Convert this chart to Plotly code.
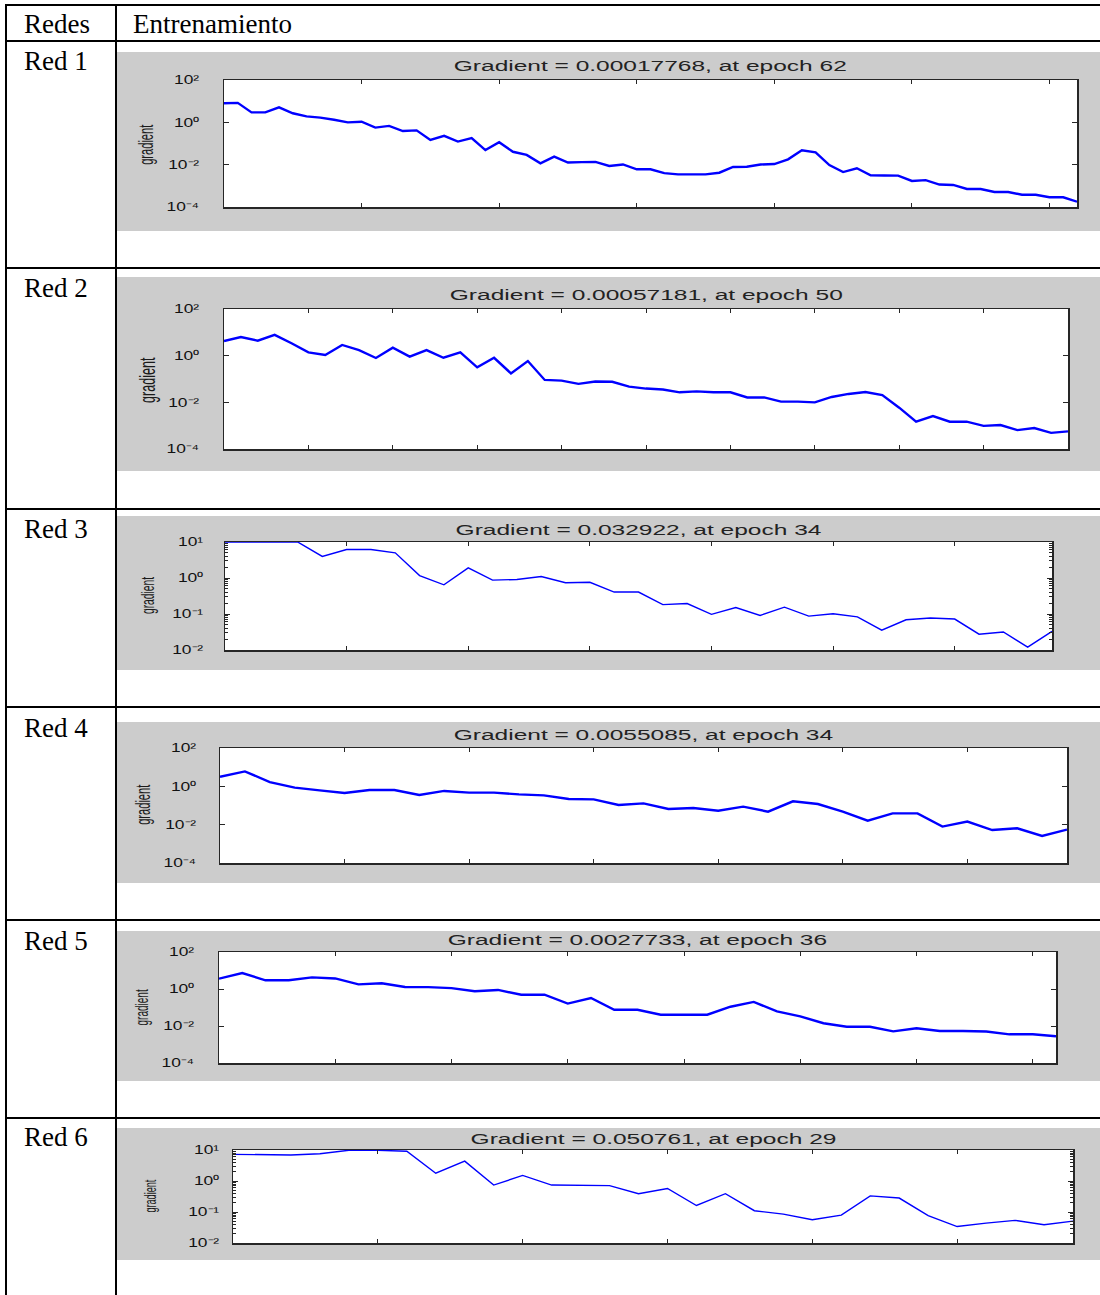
import plotly.graph_objects as go

# ---------------- data ----------------
# gradient magnitude recorded at every training epoch, one list per network
red1_gradient = [7.94, 8.32, 2.95, 2.95, 5.13, 2.69, 1.91, 1.66, 1.32, 1.0,
                 1.07, 0.562, 0.676, 0.389, 0.417, 0.148, 0.229, 0.123, 0.182, 0.049,
                 0.115, 0.0407, 0.0288, 0.0115, 0.024, 0.0126, 0.0132, 0.0135, 0.00871, 0.0102,
                 0.00603, 0.00603, 0.00398, 0.00347, 0.00347, 0.00347, 0.00417, 0.00776, 0.00794, 0.0102,
                 0.0107, 0.0178, 0.0479, 0.038, 0.00955, 0.00447, 0.00676, 0.00316, 0.00309, 0.00302,
                 0.0017, 0.00186, 0.00115, 0.0011, 0.000708, 0.000708, 0.000513, 0.000513, 0.00038, 0.00038,
                 0.000288, 0.000288, 0.00017768]
red2_gradient = [4.27, 6.31, 4.37, 7.76, 3.39, 1.38, 1.07, 2.88, 1.74, 0.794,
                 2.19, 0.912, 1.74, 0.813, 1.38, 0.316, 0.813, 0.174, 0.589, 0.0912,
                 0.0851, 0.0617, 0.0776, 0.0759, 0.0468, 0.0389, 0.0355, 0.0269, 0.0295, 0.0269,
                 0.0269, 0.0162, 0.0162, 0.0107, 0.0107, 0.01, 0.017, 0.0229, 0.0275, 0.0204,
                 0.00589, 0.00148, 0.00257, 0.00148, 0.00148, 0.000977, 0.00107, 0.000646, 0.000794, 0.00049,
                 0.00057181]
red3_gradient = [9.9, 9.9, 9.9, 9.9, 3.98, 6.17, 6.17, 5.01, 1.17, 0.646,
                 1.91, 0.871, 0.912, 1.10, 0.741, 0.759, 0.407, 0.407, 0.182, 0.195,
                 0.0977, 0.151, 0.0912, 0.155, 0.0871, 0.102, 0.0832, 0.0355, 0.0692, 0.0776,
                 0.0724, 0.0275, 0.0316, 0.012, 0.032922]
red4_gradient = [3.16, 6.03, 1.66, 0.851, 0.617, 0.447, 0.646, 0.646, 0.355, 0.575,
                 0.468, 0.468, 0.380, 0.339, 0.219, 0.209, 0.107, 0.129, 0.0661, 0.0741,
                 0.0537, 0.0871, 0.0479, 0.166, 0.120, 0.0479, 0.0162, 0.0389, 0.0389, 0.00794,
                 0.0145, 0.00525, 0.00646, 0.00257, 0.0055085]
red5_gradient = [3.63, 7.24, 2.95, 2.95, 4.27, 3.72, 1.78, 2.04, 1.29, 1.26,
                 1.12, 0.759, 0.891, 0.490, 0.490, 0.162, 0.324, 0.0759, 0.0759, 0.0407,
                 0.0407, 0.0407, 0.110, 0.200, 0.0617, 0.0331, 0.0141, 0.00912, 0.00912, 0.00513,
                 0.00759, 0.00537, 0.00537, 0.00501, 0.00355, 0.00355, 0.0027733]
red6_gradient = [7.24, 6.92, 6.92, 7.59, 9.8, 9.8, 9.12, 1.78, 4.37, 0.741,
                 1.51, 0.741, 0.741, 0.708, 0.389, 0.575, 0.162, 0.389, 0.110, 0.0851,
                 0.0562, 0.0794, 0.331, 0.282, 0.0759, 0.0339, 0.0437, 0.0537, 0.0389, 0.050761]

gradients = [red1_gradient, red2_gradient, red3_gradient,
             red4_gradient, red5_gradient, red6_gradient]

header_labels = ["Redes", "Entrenamiento"]
row_labels = ["Red 1", "Red 2", "Red 3", "Red 4", "Red 5", "Red 6"]
plot_titles = ["Gradient = 0.00017768, at epoch 62",
               "Gradient = 0.00057181, at epoch 50",
               "Gradient = 0.032922, at epoch 34",
               "Gradient = 0.0055085, at epoch 34",
               "Gradient = 0.0027733, at epoch 36",
               "Gradient = 0.050761, at epoch 29"]
y_label = "gradient"

# log tick sets: six decades (1e-4..1e2) or three decades (1e-2..1e1)
wide_tickvals = [1e-4, 1e-2, 1, 1e2]
wide_ticktext = ["10\u207b\u2074", "10\u207b\u00b2", "10\u2070", "10\u00b2"]
narrow_tickvals = [1e-2, 1e-1, 1, 10]
narrow_ticktext = ["10\u207b\u00b2", "10\u207b\u00b9", "10\u2070", "10\u00b9"]

# ---------------- page geometry (pixels) ----------------
W, H = 1100, 1295


def px(x):
    return x / W


def py(y):
    return 1 - y / H


# per row: axes box (left, right, top, bottom), grey panel (top, bottom),
# title centre y, y-label (x, y, size), tick-label gap, epoch tick step, log range, line width
rows = [
    dict(box=(224, 1077, 80, 207), panel=(52, 231), title_y=66, ylab=(146, 145, 19.5),
         gap=21, step=10, decades="wide", lw=2.4),
    dict(box=(224, 1068, 309, 449), panel=(277, 471), title_y=295, ylab=(147, 380, 22),
         gap=21, step=5, decades="wide", lw=2.4),
    dict(box=(225, 1052, 542, 650), panel=(516, 670), title_y=530, ylab=(148, 596, 18),
         gap=18, step=5, decades="narrow", lw=1.4),
    dict(box=(220, 1067, 748, 863), panel=(722, 883), title_y=735, ylab=(143, 805, 19.5),
         gap=20, step=5, decades="wide", lw=2.4),
    dict(box=(219, 1056, 952, 1063), panel=(931, 1081), title_y=940, ylab=(142, 1008, 17.5),
         gap=21, step=5, decades="wide", lw=2.4),
    dict(box=(233, 1073, 1150, 1243), panel=(1128, 1260), title_y=1139, ylab=(150, 1196, 16),
         gap=10, step=5, decades="narrow", lw=1.4),
]
row_label_y = [61, 288, 529, 728, 941, 1137]
row_lines_y = [41, 268, 509, 707, 920, 1118]

AXIS_COL = "#262626"
MATLAB_FONT = "Liberation Sans"
TABLE_FONT = "Liberation Serif"

fig = go.Figure()
shapes = []
annotations = []
layout_axes = {}

for i, (g, vals) in enumerate(zip(rows, gradients)):
    sfx = "" if i == 0 else str(i + 1)
    L, R, T, B = g["box"]
    n_epochs = len(vals) - 1

    fig.add_trace(go.Scatter(
        x=list(range(len(vals))), y=vals, mode="lines",
        line=dict(color="#0000ff", width=g["lw"]),
        xaxis="x" + sfx, yaxis="y" + sfx,
        hoverinfo="skip", showlegend=False,
    ))

    layout_axes["xaxis" + sfx] = dict(
        domain=[px(L), px(R)], anchor="y" + sfx, range=[0, n_epochs],
        tick0=0, dtick=g["step"], ticks="inside", ticklen=4, tickwidth=1,
        tickcolor=AXIS_COL, showticklabels=False, showgrid=False, zeroline=False,
        showline=True, linecolor=AXIS_COL, linewidth=1.5, mirror="ticks",
        fixedrange=True, automargin=False,
    )

    if g["decades"] == "wide":
        tv, tt, rng = wide_tickvals, wide_ticktext, [-4, 2]
        minor = None
    else:
        tv, tt, rng = narrow_tickvals, narrow_ticktext, [-2, 1]
        minor_vals = [m * 10 ** e for e in (-2, -1, 0) for m in range(2, 10)]
        minor = dict(tickmode="array", tickvals=minor_vals, ticks="inside",
                     ticklen=3, tickwidth=1, tickcolor=AXIS_COL, showgrid=False)

    yax = dict(
        domain=[py(B), py(T)], anchor="x" + sfx, type="log", range=rng,
        tickmode="array", tickvals=tv, ticktext=tt,
        ticks="inside", ticklen=5, tickwidth=1, tickcolor=AXIS_COL,
        tickfont=dict(family=MATLAB_FONT, size=12, color="#111111"),
        ticklabelstandoff=g["gap"],
        showgrid=False, zeroline=False, showline=True, linecolor=AXIS_COL,
        linewidth=1.5, mirror="ticks", fixedrange=True, automargin=False,
    )
    if minor:
        yax["minor"] = minor
    layout_axes["yaxis" + sfx] = yax

    # grey figure panel, then the white axes area on top of it
    p_top, p_bot = g["panel"]
    shapes.append(dict(type="rect", xref="paper", yref="paper",
                       x0=px(117), x1=1, y0=py(p_bot), y1=py(p_top),
                       fillcolor="#cccccc", line=dict(width=0), layer="below"))
    shapes.append(dict(type="rect", xref="x" + sfx + " domain", yref="y" + sfx + " domain",
                       x0=0, x1=1, y0=0, y1=1,
                       fillcolor="#ffffff", line=dict(width=0), layer="below"))

    annotations.append(dict(
        text=plot_titles[i], x=px((L + R) / 2), y=py(g["title_y"]),
        xref="paper", yref="paper", xanchor="center", yanchor="middle",
        showarrow=False, font=dict(family=MATLAB_FONT, size=14, color="#222222"),
    ))
    lx, ly, ls = g["ylab"]
    annotations.append(dict(
        text=y_label, x=px(lx), y=py(ly), xref="paper", yref="paper",
        xanchor="center", yanchor="middle", textangle=-90, showarrow=False,
        font=dict(family=MATLAB_FONT, size=ls, color="#1a1a1a"),
    ))
    annotations.append(dict(
        text=row_labels[i], x=px(22), y=py(row_label_y[i]), xref="paper", yref="paper",
        xanchor="left", yanchor="middle", showarrow=False,
        font=dict(family=TABLE_FONT, size=27, color="#000000"),
    ))

# table header
annotations.append(dict(text=header_labels[0], x=px(22), y=py(24), xref="paper", yref="paper",
                        xanchor="left", yanchor="middle", showarrow=False,
                        font=dict(family=TABLE_FONT, size=27, color="#000000")))
annotations.append(dict(text=header_labels[1], x=px(131), y=py(24), xref="paper", yref="paper",
                        xanchor="left", yanchor="middle", showarrow=False,
                        font=dict(family=TABLE_FONT, size=27, color="#000000")))

# table rules
rule = dict(color="#000000", width=2)
shapes.append(dict(type="line", xref="paper", yref="paper", x0=px(5), x1=1,
                   y0=py(5), y1=py(5), line=rule, layer="above"))
for x in (6, 116):
    shapes.append(dict(type="line", xref="paper", yref="paper", x0=px(x), x1=px(x),
                       y0=py(5), y1=0, line=rule, layer="above"))
for y in row_lines_y:
    shapes.append(dict(type="line", xref="paper", yref="paper", x0=px(6), x1=1,
                       y0=py(y), y1=py(y), line=rule, layer="above"))

fig.update_layout(
    width=W, height=H, margin=dict(l=0, r=0, t=0, b=0, pad=0, autoexpand=False),
    paper_bgcolor="#ffffff", plot_bgcolor="rgba(0,0,0,0)",
    showlegend=False, shapes=shapes, annotations=annotations,
    **layout_axes,
)

# MATLAB-exported lettering is wide: stretch titles and tick labels along the
# baseline, and squeeze the rotated axis labels so their glyphs stay tall
widen_js = """
document.body.style.margin = '0';
var gd = document.getElementById('{plot_id}');
function fit(nodes, k) {
  nodes.forEach(function (t) {
    var w = t.getComputedTextLength();
    if (w > 0) {
      t.setAttribute('textLength', (w * k).toFixed(1));
      t.setAttribute('lengthAdjust', 'spacingAndGlyphs');
    }
  });
}
var ann = Array.prototype.slice.call(gd.querySelectorAll('text.annotation-text'));
fit(ann.filter(function (t) {
  return (t.style.fontFamily || '').indexOf('Liberation Sans') >= 0 && t.textContent !== 'gradient';
}), 1.75);
fit(ann.filter(function (t) { return t.textContent === 'gradient'; }), 0.57);
fit(Array.prototype.slice.call(gd.querySelectorAll('.yaxislayer-above text')), 1.45);
"""

fig.write_html("out.html", config={"displayModeBar": False, "staticPlot": True},
               post_script=widen_js)
